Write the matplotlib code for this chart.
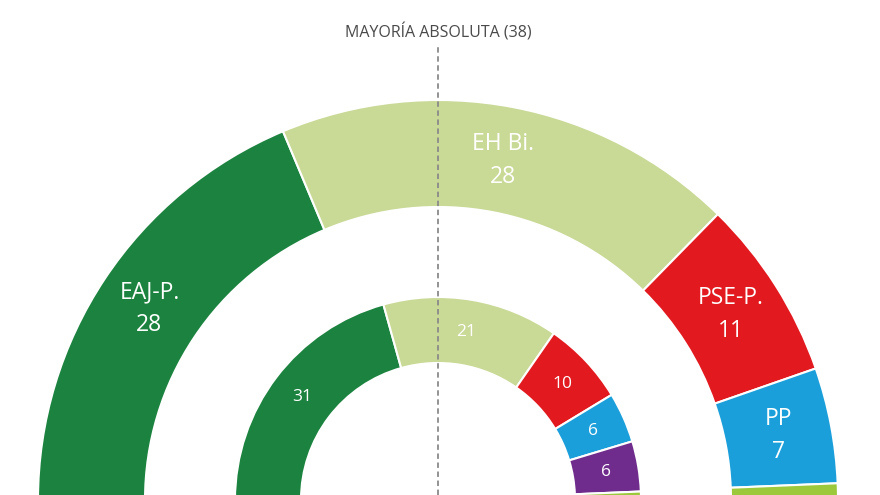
import numpy as np
import matplotlib
matplotlib.use("Agg")
import matplotlib.pyplot as plt
from matplotlib.patches import Wedge

plt.rcParams["font.family"] = ["Open Sans", "DejaVu Sans"]

# 2024 forecast (outer ring) and 2020 result (inner ring)
parties_outer = ["EAJ-P.", "EH Bi.", "PSE-P.", "PP", "Sumar"]
seats_outer = [28, 28, 11, 7, 1]
colors_outer = ["#1b833f", "#c9d996", "#e2191e", "#1b9fdb", "#9cc83c"]

parties_inner = ["EAJ-PNV", "EH Bildu", "PSE-EE", "PP+Cs", "Podemos", "Vox"]
seats_inner = [31, 21, 10, 6, 6, 1]
colors_inner = ["#1b833f", "#c9d996", "#e2191e", "#1b9fdb", "#6f2c8c", "#9cc83c"]

majority = 38
total = 75

W, H = 880, 495
fig = plt.figure(figsize=(W / 100, H / 100), dpi=100)
ax = fig.add_axes([0, 0, 1, 1])
ax.set_xlim(0, W)
ax.set_ylim(0, H)
ax.set_aspect("equal")
ax.axis("off")

cx, cy = 438, -5


def draw_ring(seats, colors, r_in, r_out, names, fs):
    start = 180.0
    for i, (s, c) in enumerate(zip(seats, colors)):
        span = 180.0 * s / total
        end = start - span
        ax.add_patch(Wedge((cx, cy), r_out, end, start, width=r_out - r_in,
                           facecolor=c, edgecolor="white", linewidth=1.5, zorder=2))
        mid = np.deg2rad((start + end) / 2)
        rm = (r_in + r_out) / 2
        x = cx + rm * np.cos(mid)
        y = cy + rm * np.sin(mid)
        # the smallest slice has no label
        if s > 1:
            if names is not None:
                ax.text(x, y + 16, names[i], ha="center", va="center", color="white",
                        fontsize=fs, zorder=4)
                ax.text(x, y - 17, str(s), ha="center", va="center", color="white",
                        fontsize=fs, zorder=4)
            else:
                ax.text(x, y, str(s), ha="center", va="center", color="white",
                        fontsize=fs, zorder=4)
        start = end


draw_ring(seats_outer, colors_outer, 293, 400, parties_outer, 16.5)
draw_ring(seats_inner, colors_inner, 137, 203, None, 12.5)

# majority line
ax.plot([cx, cx], [0, H - 47], color="#8a8a8a", linestyle=(0, (3, 2)),
        linewidth=1.3, zorder=3)
ax.text(cx, H - 33, f"MAYORÍA ABSOLUTA ({majority})", ha="center", va="center",
        fontsize=11.5, color="#4a4a4a")

fig.savefig("out.png", dpi=100)
